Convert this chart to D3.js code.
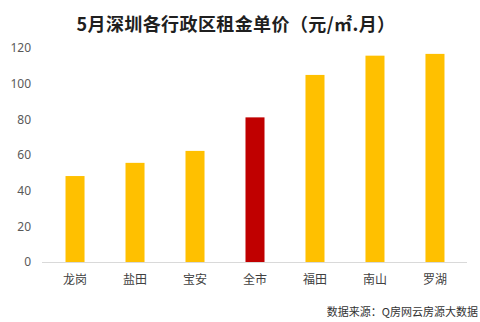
<!DOCTYPE html>
<html>
<head>
<meta charset="utf-8">
<script src="https://cdn.jsdelivr.net/npm/d3@7"></script>
<style>
  html, body { margin: 0; padding: 0; background: #fff; }
  svg { display: block; }
  text { font-family: "Noto Sans CJK SC", "Noto Sans", sans-serif; }
</style>
</head>
<body>
<svg id="chart" width="480" height="322"></svg>
<script>
// Monthly rent per square metre by district
const districts = ["龙岗", "盐田", "宝安", "全市", "福田", "南山", "罗湖"];
const rents = [48.2, 55.6, 62.3, 81.1, 104.9, 115.7, 116.7];
const highlight = ["全市"];
const yTicks = [0, 20, 40, 60, 80, 100, 120];
const title = "5月深圳各行政区租金单价（元/㎡.月）";
const source = "数据来源：Q房网云房源大数据";

const svg = d3.select("#chart");
const margin = { left: 45, right: 15, top: 48, bottom: 60 };
const W = 480, H = 322;

const x = d3.scaleBand()
  .domain(districts)
  .range([margin.left, W - margin.right])
  .paddingInner(0.683)
  .paddingOuter(0.342);

const y = d3.scaleLinear()
  .domain([0, 120])
  .range([H - margin.bottom, margin.top]);

// title
svg.append("text")
  .attr("x", 236)
  .attr("y", 31)
  .attr("text-anchor", "middle")
  .attr("font-size", 18)
  .attr("font-weight", "bold")
  .attr("letter-spacing", 0.4)
  .attr("fill", "#1f1f1f")
  .text(title);

// y axis labels (no axis line, no ticks)
const yAxis = svg.append("g")
  .attr("transform", `translate(${margin.left - 14},0)`)
  .call(d3.axisLeft(y).tickValues(yTicks).tickSize(0).tickPadding(0));
yAxis.select(".domain").remove();
yAxis.selectAll("text")
  .attr("font-size", 12)
  .attr("fill", "#595959")
  .style("font-family", "'Noto Sans', sans-serif");

// bars
svg.append("g")
  .selectAll("rect")
  .data(districts.map((d, i) => ({ d, v: rents[i] })))
  .join("rect")
  .attr("x", p => x(p.d))
  .attr("width", x.bandwidth())
  .attr("y", p => y(p.v))
  .attr("height", p => y(0) - y(p.v))
  .attr("fill", p => highlight.includes(p.d) ? "#C00000" : "#FFC000");

// x axis
const xAxis = svg.append("g")
  .attr("transform", `translate(0,${y(0)})`)
  .call(d3.axisBottom(x).tickSize(0).tickPadding(13));
xAxis.select(".domain")
  .attr("stroke", "#d9d9d9")
  .attr("d", `M${margin.left - 3},0.5H${W - 13}`);
xAxis.selectAll("text")
  .attr("font-size", 12)
  .attr("fill", "#404040");

// source note
svg.append("text")
  .attr("x", 478)
  .attr("y", 316)
  .attr("text-anchor", "end")
  .attr("font-size", 11)
  .attr("fill", "#333333")
  .text(source);
</script>
</body>
</html>
